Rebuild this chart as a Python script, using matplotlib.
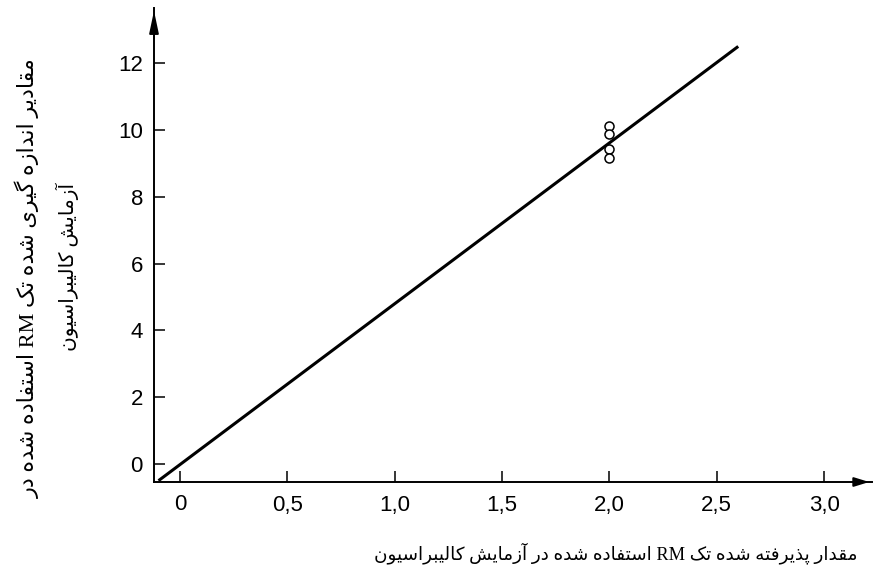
import matplotlib
matplotlib.use('Agg')
import matplotlib.pyplot as plt

# ---- data ----
fit_x = [-0.1, 2.6]
fit_y = [-0.5, 12.5]
pts_x = [2.0, 2.0, 2.0, 2.0]
pts_y = [10.12, 9.87, 9.42, 9.17]
xticks = [0, 0.5, 1.0, 1.5, 2.0, 2.5, 3.0]
xtick_lbls = ['0', '0,5', '1,0', '1,5', '2,0', '2,5', '3,0']
yticks = [0, 2, 4, 6, 8, 10, 12]
ytick_lbls = ['0', '2', '4', '6', '8', '10', '12']
ylab1 = 'مقادیر اندازه گیری شده تک RM استفاده شده در'
ylab2 = 'آزمایش کالیبراسیون'
xlab = 'مقدار پذیرفته شده تک RM استفاده شده در آزمایش کالیبراسیون'

# matplotlib has no arabic shaping -> presentation forms + reverse by hand
# (isolated, final, initial, medial)
FORMS = {
    'ا': ('\uFE8D', '\uFE8E', None, None),
    'آ': ('\uFE81', '\uFE82', None, None),
    'ب': ('\uFE8F', '\uFE90', '\uFE91', '\uFE92'),
    'پ': ('\uFB56', '\uFB57', '\uFB58', '\uFB59'),
    'ت': ('\uFE95', '\uFE96', '\uFE97', '\uFE98'),
    'د': ('\uFEA9', '\uFEAA', None, None),
    'ذ': ('\uFEAB', '\uFEAC', None, None),
    'ر': ('\uFEAD', '\uFEAE', None, None),
    'ز': ('\uFEAF', '\uFEB0', None, None),
    'س': ('\uFEB1', '\uFEB2', '\uFEB3', '\uFEB4'),
    'ش': ('\uFEB5', '\uFEB6', '\uFEB7', '\uFEB8'),
    'ف': ('\uFED1', '\uFED2', '\uFED3', '\uFED4'),
    'ق': ('\uFED5', '\uFED6', '\uFED7', '\uFED8'),
    'ک': ('\uFB8E', '\uFB8F', '\uFB90', '\uFB91'),
    'گ': ('\uFB92', '\uFB93', '\uFB94', '\uFB95'),
    'ل': ('\uFEDD', '\uFEDE', '\uFEDF', '\uFEE0'),
    'م': ('\uFEE1', '\uFEE2', '\uFEE3', '\uFEE4'),
    'ن': ('\uFEE5', '\uFEE6', '\uFEE7', '\uFEE8'),
    'ه': ('\uFEE9', '\uFEEA', '\uFEEB', '\uFEEC'),
    'و': ('\uFEED', '\uFEEE', None, None),
    'ی': ('\uFBFC', '\uFBFD', '\uFBFE', '\uFBFF'),
}

def shape_word(w):
    out = []
    for i, ch in enumerate(w):
        f = FORMS.get(ch)
        if f is None:
            out.append(ch)
            continue
        prev = FORMS.get(w[i-1]) if i > 0 else None
        nxt = FORMS.get(w[i+1]) if i + 1 < len(w) else None
        jp = prev is not None and prev[2] is not None
        jn = nxt is not None and f[2] is not None
        if jp and jn:
            out.append(f[3])
        elif jp:
            out.append(f[1])
        elif jn:
            out.append(f[2])
        else:
            out.append(f[0])
    return ''.join(out)

def fa(text):
    vis = []
    for w in reversed(text.split(' ')):
        if any(c in FORMS for c in w):
            vis.append(shape_word(w)[::-1])
        else:
            vis.append(w)
    return ' '.join(vis)

fa_font = ['Liberation Serif', 'DejaVu Sans']
num_font = ['Liberation Sans Narrow', 'Liberation Sans', 'DejaVu Sans']

fig = plt.figure(figsize=(8.74, 5.8), dpi=100)
ax = fig.add_axes([154/874, 98/580, 718/874, 474/580])

ax.plot(fit_x, fit_y, color='black', lw=2.2, solid_capstyle='butt')
ax.plot(pts_x, pts_y, 'o', mfc='white', mec='black', ms=6.5, mew=1.1)

ax.set_xlim(-0.121, 3.223)
ax.set_ylim(-0.54, 13.65)

for s in ['top', 'right']:
    ax.spines[s].set_visible(False)
for s in ['left', 'bottom']:
    ax.spines[s].set_linewidth(1.4)

ax.annotate('', xy=(1, 0), xytext=(0.97, 0), xycoords='axes fraction',
            arrowprops=dict(arrowstyle='-|>,head_length=0.65,head_width=0.2',
                            color='black', lw=1.4, mutation_scale=14))
ax.annotate('', xy=(0, 1), xytext=(0, 0.93), xycoords='axes fraction',
            arrowprops=dict(arrowstyle='-|>,head_length=0.95,head_width=0.2',
                            color='black', lw=1.4, mutation_scale=14))

ax.set_xticks(xticks)
ax.set_xticklabels(xtick_lbls, family=num_font, fontsize=16)
ax.set_yticks(yticks)
ax.set_yticklabels(ytick_lbls, family=num_font, fontsize=16)
ax.tick_params(axis='both', direction='in', length=8, width=1.1)
ax.tick_params(axis='x', pad=9)
ax.tick_params(axis='y', pad=8)

fig.text(28/874, 1 - 278/580, fa(ylab1), rotation=90, ha='center', va='center',
         family=fa_font, fontsize=16)
fig.text(67/874, 1 - 267/580, fa(ylab2), rotation=90, ha='center', va='center',
         family=fa_font, fontsize=14.5)
fig.text(616/874, 1 - 553/580, fa(xlab), ha='center', va='center',
         family=fa_font, fontsize=13.2)

fig.savefig('out.png', dpi=100)
